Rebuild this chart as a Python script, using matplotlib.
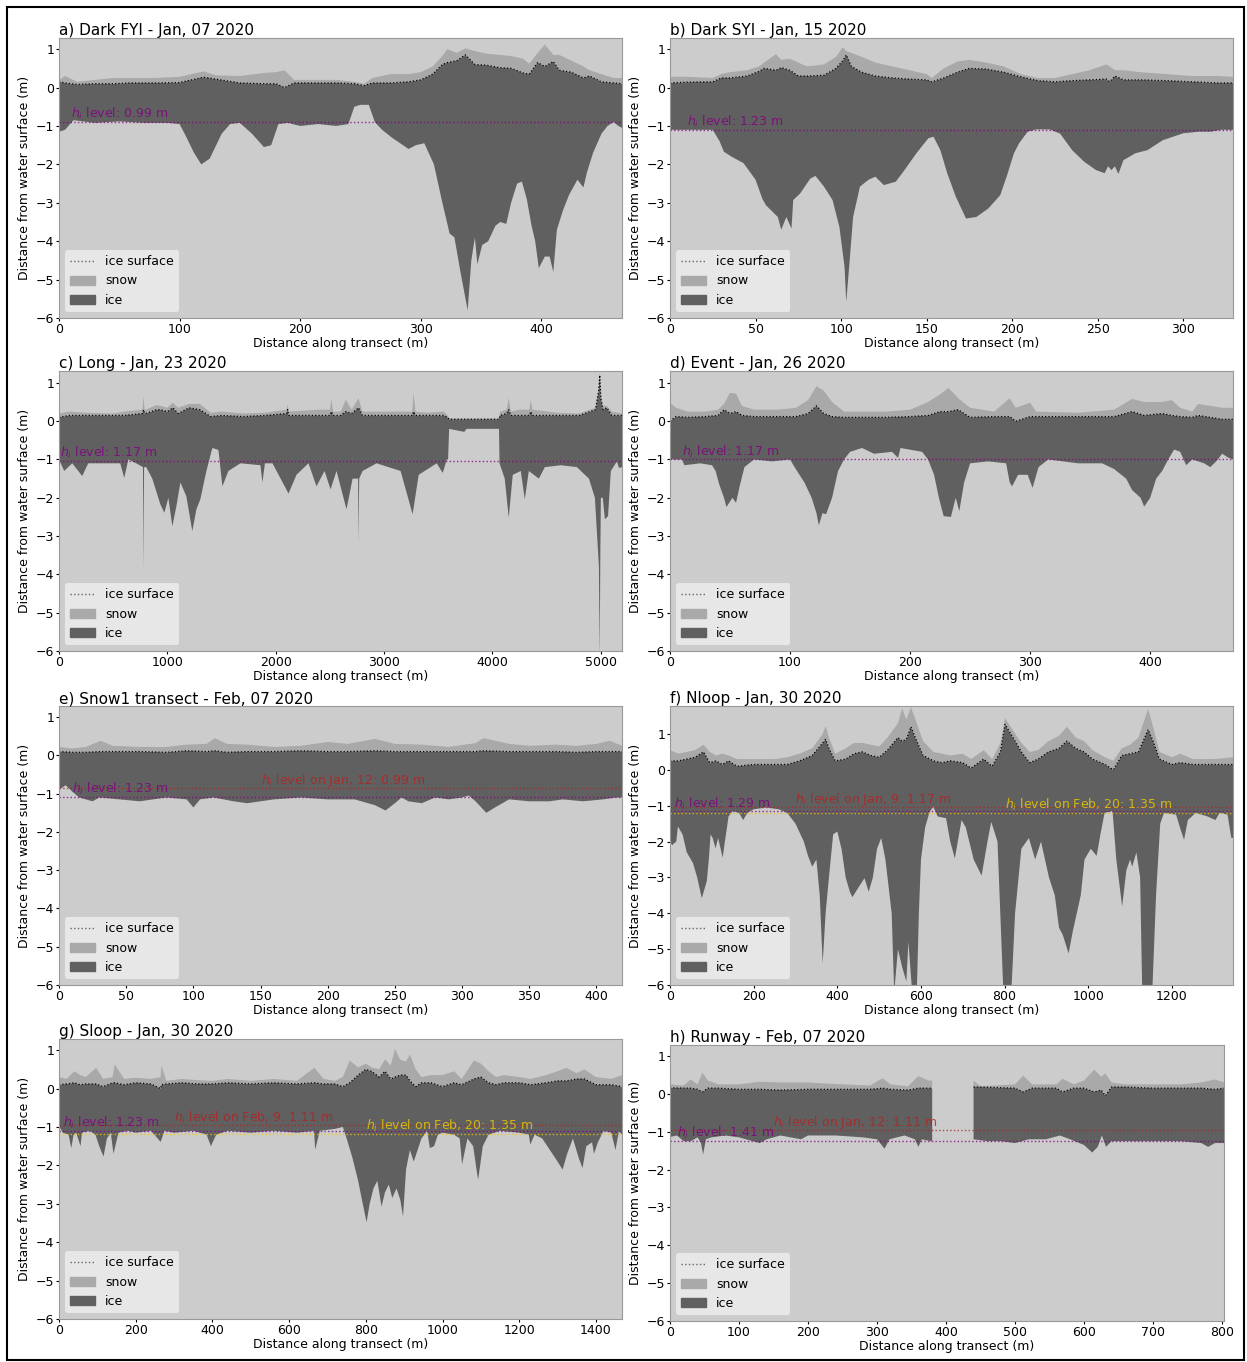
import numpy as np
import matplotlib.pyplot as plt
from matplotlib.lines import Line2D
from matplotlib.patches import Patch, Rectangle

# colours
BG = '#cccccc'
SNOW_C = '#a9a9a9'
ICE_C = '#606060'
PURPLE = 'purple'
RED = '#b22222'
GOLD = '#f2cc00'

# ---- a) Dark FYI ----
A_TX = [0, 5, 15, 30, 45, 60, 80, 100, 110, 120, 130, 150, 170, 180, 187, 195, 210, 230, 245, 253,
        260, 275, 290, 300, 310, 318, 322, 330, 337, 345, 355, 365, 375, 385, 390, 397, 403, 410, 415,
        425, 435, 440, 450, 460, 467]
A_TOP = [0.15, 0.12, 0.08, 0.10, 0.10, 0.12, 0.12, 0.13, 0.20, 0.27, 0.22, 0.12, 0.10, 0.10, 0.00,
         0.12, 0.12, 0.12, 0.10, 0.05, 0.12, 0.12, 0.15, 0.20, 0.35, 0.60, 0.65, 0.70, 0.85, 0.60,
         0.58, 0.52, 0.50, 0.38, 0.35, 0.65, 0.55, 0.68, 0.45, 0.40, 0.25, 0.30, 0.15, 0.12, 0.10]
A_SNOW = [0.20, 0.30, 0.15, 0.20, 0.25, 0.25, 0.25, 0.28, 0.35, 0.42, 0.32, 0.30, 0.38, 0.40, 0.45,
          0.20, 0.20, 0.20, 0.15, 0.10, 0.25, 0.35, 0.35, 0.40, 0.55, 0.82, 1.00, 0.90, 1.02, 0.95,
          0.88, 0.85, 0.82, 0.75, 0.62, 0.90, 1.12, 0.85, 0.85, 0.70, 0.55, 0.45, 0.35, 0.25, 0.25]
A_BX = [0, 5, 12, 30, 50, 70, 90, 100, 105, 112, 118, 125, 135, 142, 150, 160, 170, 176, 182, 190,
        200, 215, 230, 240, 245, 250, 257, 262, 268, 276, 283, 290, 296, 303, 311, 318, 324, 328, 333,
        336, 339, 342, 345, 347, 351, 356, 362, 366, 371, 375, 380, 384, 388, 392, 395, 398, 403, 407,
        410, 413, 418, 423, 430, 435, 438, 443, 450, 455, 460, 464, 467]
A_BOT = [-1.15, -1.10, -0.85, -0.92, -0.88, -0.92, -0.92, -0.95, -1.25, -1.70, -2.00, -1.85, -1.20,
         -0.95, -0.92, -1.20, -1.55, -1.50, -0.95, -0.92, -1.00, -0.95, -1.00, -0.95, -0.50, -0.45,
         -0.45, -0.90, -1.10, -1.30, -1.45, -1.60, -1.50, -1.45, -2.00, -3.00, -3.80, -3.90, -4.80,
         -5.30, -5.80, -4.50, -3.90, -4.60, -4.10, -4.00, -3.60, -3.50, -3.55, -3.00, -2.50, -2.45,
         -2.90, -3.60, -4.00, -4.70, -4.40, -4.40, -4.80, -3.70, -3.20, -2.80, -2.40, -2.60, -2.20,
         -1.70, -1.20, -1.00, -0.90, -1.00, -1.05]

# ---- b) Dark SYI ----
B_TX = [0, 10, 25, 30, 35, 45, 52, 55, 62, 65, 70, 75, 80, 90, 97, 101, 103, 106, 112, 120, 130, 140,
        150, 153, 160, 168, 175, 185, 195, 205, 215, 225, 235, 245, 255, 257, 260, 265, 275, 290, 305,
        320, 329]
B_TOP = [0.12, 0.14, 0.15, 0.25, 0.25, 0.30, 0.42, 0.50, 0.45, 0.52, 0.45, 0.30, 0.30, 0.32, 0.50,
         0.70, 0.85, 0.55, 0.40, 0.30, 0.25, 0.22, 0.20, 0.15, 0.25, 0.40, 0.50, 0.48, 0.40, 0.28,
         0.18, 0.15, 0.18, 0.20, 0.22, 0.15, 0.30, 0.20, 0.20, 0.18, 0.15, 0.12, 0.12]
B_SNOW = [0.28, 0.28, 0.25, 0.35, 0.40, 0.45, 0.55, 0.65, 0.87, 0.72, 0.75, 0.65, 0.55, 0.60, 0.80,
          1.05, 0.95, 0.90, 0.80, 0.65, 0.55, 0.45, 0.35, 0.25, 0.50, 0.68, 0.72, 0.65, 0.55, 0.35,
          0.25, 0.25, 0.35, 0.45, 0.60, 0.55, 0.45, 0.45, 0.40, 0.35, 0.30, 0.30, 0.28]
B_BX = [0, 25, 29, 31.5, 36, 43, 50, 54, 56, 63, 65, 68, 71, 72, 76, 82, 85, 90, 95, 99, 102, 103,
        105, 107, 111, 116, 120, 125, 132, 137, 144, 151, 154, 158, 162, 167, 173, 179, 186, 193, 197,
        201, 204, 209, 214, 222, 228, 235, 242, 249, 254, 256, 258, 260, 262, 265, 272, 279, 288, 300,
        309, 316, 322, 326, 329]
B_BOT = [-1.10, -1.10, -1.40, -1.67, -1.80, -1.97, -2.40, -2.90, -3.06, -3.37, -3.70, -3.37, -3.67,
         -2.93, -2.76, -2.37, -2.30, -2.58, -2.93, -3.63, -4.67, -5.58, -4.50, -3.37, -2.58, -2.40,
         -2.32, -2.54, -2.45, -2.15, -1.71, -1.32, -1.28, -1.63, -2.23, -2.84, -3.41, -3.37, -3.15,
         -2.80, -2.28, -1.71, -1.45, -1.15, -1.09, -1.09, -1.20, -1.63, -1.93, -2.15, -2.23, -2.05,
         -2.15, -2.05, -2.25, -1.89, -1.71, -1.63, -1.37, -1.19, -1.15, -1.15, -1.10, -1.10, -1.10]

# ---- c) Long ----
C_TX = [0, 100, 250, 500, 600, 770, 780, 790, 800, 900, 935, 1000, 1050, 1100, 1200, 1300, 1400,
        1500, 1700, 1900, 2100, 2110, 2120, 2400, 2500, 2513, 2530, 2600, 2646, 2700, 2764, 2800,
        2900, 3100, 3260, 3271, 3290, 3400, 3550, 3585, 3600, 4060, 4070, 4130, 4150, 4170, 4250,
        4340, 4353, 4370, 4600, 4800, 4950, 4980, 4990, 5000, 5020, 5055, 5100, 5195]
C_TOP = [0.10, 0.15, 0.15, 0.15, 0.15, 0.20, 0.30, 0.20, 0.20, 0.30, 0.30, 0.25, 0.35, 0.20, 0.35,
         0.30, 0.12, 0.15, 0.12, 0.15, 0.20, 0.30, 0.15, 0.15, 0.15, 0.25, 0.15, 0.15, 0.25, 0.20,
         0.35, 0.15, 0.15, 0.15, 0.15, 0.25, 0.15, 0.15, 0.15, 0.10, 0.05, 0.05, 0.15, 0.20, 0.30,
         0.15, 0.15, 0.15, 0.25, 0.15, 0.15, 0.15, 0.30, 0.80, 1.20, 0.60, 0.30, 0.35, 0.15, 0.15]
C_SNOW = [0.20, 0.25, 0.22, 0.20, 0.25, 0.30, 0.65, 0.30, 0.30, 0.42, 0.40, 0.35, 0.48, 0.35, 0.45,
          0.45, 0.22, 0.25, 0.20, 0.22, 0.30, 0.45, 0.25, 0.30, 0.30, 0.58, 0.25, 0.25, 0.56, 0.30,
          0.60, 0.25, 0.25, 0.25, 0.25, 0.74, 0.25, 0.22, 0.25, 0.15, 0.07, 0.07, 0.25, 0.30, 0.60,
          0.25, 0.30, 0.30, 0.55, 0.30, 0.22, 0.20, 0.35, 0.85, 1.28, 0.70, 0.40, 0.40, 0.25, 0.20]
C_BX = [0, 48, 122, 214, 270, 380, 565, 602, 640, 713, 775, 780, 785, 805, 861, 935, 972, 1009, 1046,
        1083, 1120, 1175, 1230, 1268, 1304, 1360, 1415, 1471, 1508, 1563, 1674, 1859, 1877, 1900, 1970,
        2118, 2191, 2302, 2376, 2450, 2506, 2561, 2653, 2709, 2760, 2764, 2770, 2801, 2930, 3041, 3152,
        3263, 3319, 3374, 3485, 3541, 3578, 3590, 3600, 3740, 3760, 4060, 4065, 4113, 4150, 4187, 4261,
        4298, 4335, 4428, 4483, 4631, 4779, 4890, 4945, 4982, 4989, 4995, 5000, 5018, 5037, 5066, 5092,
        5148, 5167, 5195]
C_BOT = [-1.00, -1.30, -1.10, -1.43, -1.10, -1.10, -1.10, -1.48, -1.00, -1.10, -1.20, -3.87, -1.20,
         -1.20, -1.50, -2.17, -2.39, -2.00, -2.74, -2.22, -1.60, -1.96, -2.87, -2.30, -2.04, -1.30,
         -0.70, -0.75, -1.70, -1.30, -1.10, -1.15, -1.60, -1.10, -1.10, -1.89, -1.40, -1.10, -1.70,
         -1.30, -1.78, -1.30, -2.30, -1.50, -1.50, -3.17, -1.50, -1.30, -1.10, -1.20, -1.30, -2.43,
         -1.40, -1.30, -1.10, -1.35, -1.00, -1.00, -0.20, -0.28, -0.20, -0.20, -1.10, -1.50, -2.52,
         -1.40, -1.30, -2.04, -1.30, -1.50, -1.20, -1.15, -1.20, -1.50, -2.00, -3.80, -6.20, -3.50,
         -2.00, -2.00, -2.56, -2.48, -1.30, -1.05, -1.22, -1.20]

# ---- d) Event ----
D_TX = [0, 5, 15, 30, 40, 45, 50, 55, 60, 70, 90, 105, 115, 122, 128, 135, 145, 180, 200, 215, 225,
        232, 240, 250, 270, 283, 288, 300, 305, 340, 370, 385, 395, 410, 418, 425, 435, 440, 460, 469]
D_TOP = [0.00, 0.12, 0.10, 0.12, 0.15, 0.30, 0.20, 0.25, 0.15, 0.12, 0.12, 0.12, 0.20, 0.40, 0.20,
         0.12, 0.10, 0.10, 0.12, 0.15, 0.25, 0.25, 0.30, 0.10, 0.12, 0.12, 0.00, 0.12, 0.12, 0.12,
         0.12, 0.25, 0.15, 0.20, 0.15, 0.12, 0.10, 0.15, 0.05, 0.05]
D_SNOW = [0.48, 0.35, 0.25, 0.25, 0.30, 0.45, 0.74, 0.72, 0.40, 0.30, 0.30, 0.35, 0.55, 0.91, 0.80,
          0.50, 0.25, 0.25, 0.30, 0.50, 0.70, 0.87, 0.60, 0.35, 0.25, 0.60, 0.35, 0.48, 0.25, 0.22,
          0.30, 0.58, 0.50, 0.50, 0.55, 0.35, 0.25, 0.45, 0.35, 0.35]
D_BX = [0, 10, 12, 25, 35, 38, 41, 45, 47, 52, 55, 58, 62, 70, 85, 100, 105, 112, 118, 122, 124, 127,
        130, 135, 140, 145, 150, 160, 170, 185, 190, 192, 210, 215, 220, 224, 228, 234, 238, 241, 245,
        250, 265, 280, 283, 285, 290, 298, 302, 307, 315, 340, 360, 370, 380, 385, 392, 395, 400, 405,
        410, 415, 420, 425, 430, 435, 445, 450, 455, 460, 465, 469]
D_BOT = [-1.00, -1.00, -1.15, -1.10, -1.15, -1.30, -1.65, -2.00, -2.24, -2.00, -2.13, -1.70, -1.20,
         -1.00, -1.05, -1.00, -1.26, -1.60, -2.00, -2.40, -2.72, -2.40, -2.43, -2.00, -1.30, -1.00,
         -0.80, -0.70, -0.85, -0.80, -0.96, -0.70, -0.80, -1.00, -1.40, -2.00, -2.48, -2.50, -2.00,
         -2.35, -1.60, -1.10, -1.05, -1.10, -1.60, -1.70, -1.40, -1.40, -1.74, -1.20, -1.00, -1.10,
         -1.10, -1.25, -1.50, -1.80, -2.00, -2.23, -2.00, -1.50, -1.30, -1.00, -0.74, -0.80, -1.15,
         -1.00, -1.10, -1.20, -1.05, -0.85, -0.95, -1.00]

# ---- e) Snow1 transect ----
E_TX = [0, 10, 20, 31, 40, 60, 80, 95, 110, 116, 125, 140, 160, 180, 200, 215, 235, 250, 270, 290,
        310, 316, 335, 350, 370, 385, 400, 410, 419]
E_TOP = [0.10, 0.08, 0.08, 0.10, 0.10, 0.10, 0.08, 0.12, 0.10, 0.12, 0.08, 0.10, 0.10, 0.12, 0.10,
         0.10, 0.12, 0.10, 0.10, 0.10, 0.10, 0.12, 0.10, 0.10, 0.10, 0.08, 0.10, 0.10, 0.10]
E_SNOW = [0.22, 0.18, 0.22, 0.38, 0.25, 0.22, 0.22, 0.28, 0.30, 0.45, 0.30, 0.28, 0.22, 0.25, 0.35,
          0.30, 0.43, 0.30, 0.28, 0.22, 0.32, 0.45, 0.30, 0.25, 0.28, 0.25, 0.30, 0.38, 0.25]
E_BX = [0, 5, 10, 15, 25, 30, 45, 60, 80, 95, 100, 105, 115, 130, 140, 160, 180, 200, 220, 235, 243,
        250, 255, 260, 270, 280, 290, 300, 305, 310, 318, 325, 335, 350, 365, 375, 390, 405, 415, 419]
E_BOT = [-0.90, -0.78, -0.95, -1.10, -1.20, -1.10, -1.15, -1.20, -1.10, -1.15, -1.36, -1.15, -1.10,
         -1.20, -1.25, -1.15, -1.10, -1.15, -1.15, -1.30, -1.44, -1.25, -1.10, -1.20, -1.25, -1.10,
         -1.15, -1.10, -1.05, -1.20, -1.50, -1.35, -1.15, -1.20, -1.20, -1.15, -1.20, -1.15, -1.10,
         -1.10]

# ---- f) Nloop ----
F_TX = [0, 20, 40, 60, 80, 95, 110, 125, 140, 160, 200, 250, 280, 310, 340, 365, 372, 380, 395, 420,
        440, 460, 480, 500, 520, 545, 555, 565, 576, 590, 605, 630, 650, 670, 700, 720, 750, 770, 790,
        801, 820, 840, 860, 880, 905, 930, 949, 970, 990, 1010, 1040, 1060, 1080, 1100, 1120, 1143,
        1155, 1170, 1200, 1220, 1250, 1300, 1346]
F_TOP = [0.25, 0.25, 0.30, 0.35, 0.50, 0.20, 0.25, 0.15, 0.25, 0.10, 0.15, 0.15, 0.15, 0.25, 0.40,
         0.75, 0.85, 0.60, 0.25, 0.30, 0.45, 0.50, 0.40, 0.35, 0.55, 0.90, 0.80, 0.85, 1.20, 0.80,
         0.40, 0.25, 0.20, 0.25, 0.20, 0.05, 0.30, 0.10, 0.50, 1.27, 0.90, 0.50, 0.20, 0.30, 0.50,
         0.60, 0.80, 0.60, 0.50, 0.30, 0.15, 0.00, 0.40, 0.45, 0.50, 1.12, 0.80, 0.30, 0.15, 0.20,
         0.15, 0.15, 0.15]
F_SNOW = [0.55, 0.45, 0.50, 0.55, 0.70, 0.50, 0.40, 0.45, 0.40, 0.30, 0.30, 0.30, 0.35, 0.45, 0.60,
          1.00, 1.22, 0.90, 0.45, 0.60, 0.75, 0.75, 0.70, 0.65, 0.90, 1.30, 1.72, 1.40, 1.75, 1.30,
          0.80, 0.50, 0.45, 0.40, 0.45, 0.30, 0.55, 0.30, 0.75, 1.44, 1.10, 0.75, 0.50, 0.55, 0.80,
          0.95, 1.20, 0.90, 0.80, 0.55, 0.35, 0.25, 0.60, 0.70, 0.90, 1.70, 1.20, 0.50, 0.35, 0.45,
          0.30, 0.30, 0.35]
F_BX = [0, 5, 15, 19, 30, 40, 55, 65, 76, 88, 93, 97, 102, 109, 115, 126, 130, 140, 150, 165, 175,
        185, 200, 230, 260, 280, 300, 320, 330, 340, 350, 358, 365, 372, 380, 390, 400, 410, 420, 430,
        436, 455, 465, 475, 485, 495, 505, 515, 530, 536, 545, 555, 565, 570, 579, 590, 595, 600, 610,
        620, 629, 640, 660, 670, 681, 697, 707, 726, 745, 759, 768, 783, 797, 816, 825, 840, 858, 873,
        887, 906, 920, 930, 939, 953, 963, 982, 991, 1006, 1020, 1029, 1039, 1058, 1067, 1081, 1091,
        1100, 1105, 1115, 1124, 1129, 1153, 1162, 1172, 1181, 1210, 1219, 1229, 1238, 1257, 1285,
        1304, 1314, 1333, 1342, 1346]
F_BOT = [-2.00, -2.10, -2.00, -1.58, -1.80, -2.30, -2.60, -3.00, -3.58, -3.10, -2.47, -1.80, -1.90,
         -2.19, -1.90, -2.45, -2.10, -1.30, -1.15, -1.20, -1.40, -1.20, -1.10, -1.05, -1.10, -1.20,
         -1.50, -2.00, -2.40, -2.70, -2.50, -3.50, -5.40, -4.00, -3.00, -1.80, -1.72, -2.20, -3.00,
         -3.40, -3.55, -3.20, -3.02, -3.40, -3.00, -2.20, -1.90, -2.50, -4.00, -6.20, -5.00, -5.50,
         -5.90, -4.80, -6.20, -6.20, -4.00, -2.50, -1.60, -1.20, -1.02, -1.30, -1.35, -2.00, -2.47,
         -1.40, -1.60, -2.50, -2.95, -2.00, -1.45, -2.00, -6.20, -6.20, -4.00, -2.20, -1.90, -2.50,
         -2.00, -3.00, -3.50, -4.40, -4.60, -5.12, -4.50, -3.50, -2.50, -2.20, -2.40, -1.80, -1.20,
         -1.15, -2.50, -3.81, -2.80, -2.50, -2.70, -2.30, -3.00, -6.20, -6.20, -3.50, -1.50, -1.20,
         -1.25, -1.60, -1.95, -1.40, -1.20, -1.30, -1.40, -1.20, -1.25, -1.90, -1.90]

# ---- g) Sloop ----
G_TX = [0, 20, 40, 55, 70, 97, 115, 140, 145, 170, 200, 240, 265, 267, 280, 320, 360, 400, 440, 500,
        560, 620, 666, 690, 720, 740, 758, 780, 800, 815, 835, 850, 865, 876, 890, 905, 915, 930, 945,
        970, 1000, 1030, 1050, 1082, 1100, 1120, 1140, 1160, 1200, 1230, 1270, 1300, 1323, 1350,
        1370, 1400, 1440, 1468]
G_TOP = [0.10, 0.12, 0.15, 0.10, 0.12, 0.12, 0.05, 0.15, 0.15, 0.10, 0.15, 0.12, 0.00, 0.10, 0.12,
         0.15, 0.12, 0.12, 0.15, 0.12, 0.15, 0.12, 0.15, 0.12, 0.12, 0.05, 0.15, 0.35, 0.50, 0.45,
         0.30, 0.45, 0.25, 0.30, 0.35, 0.35, 0.20, 0.05, 0.15, 0.15, 0.05, 0.15, 0.10, 0.25, 0.30,
         0.15, 0.10, 0.15, 0.15, 0.10, 0.15, 0.20, 0.20, 0.25, 0.25, 0.10, 0.10, 0.05]
G_SNOW = [0.30, 0.25, 0.45, 0.35, 0.30, 0.54, 0.25, 0.30, 0.63, 0.25, 0.28, 0.25, 0.30, 0.60, 0.20,
          0.25, 0.22, 0.20, 0.25, 0.20, 0.25, 0.20, 0.54, 0.25, 0.20, 0.30, 0.73, 0.55, 0.65, 0.55,
          0.50, 0.76, 0.60, 1.03, 0.75, 0.70, 0.89, 0.50, 0.30, 0.35, 0.35, 0.45, 0.25, 0.73, 0.65,
          0.45, 0.30, 0.35, 0.30, 0.25, 0.35, 0.45, 0.54, 0.40, 0.50, 0.30, 0.25, 0.35]
G_BX = [0, 10, 25, 32, 38, 45, 56, 60, 80, 95, 105, 116, 125, 135, 142, 155, 180, 200, 240, 265, 275,
        300, 350, 385, 396, 410, 440, 500, 560, 620, 665, 668, 680, 720, 740, 750, 765, 780, 790, 802,
        810, 820, 830, 841, 850, 860, 869, 880, 890, 897, 905, 915, 925, 935, 945, 960, 967, 978, 988,
        1000, 1030, 1045, 1051, 1065, 1080, 1090, 1093, 1105, 1120, 1150, 1200, 1225, 1229, 1240, 1260,
        1280, 1300, 1313, 1325, 1340, 1355, 1365, 1375, 1390, 1395, 1405, 1420, 1440, 1451, 1460, 1468]
G_BOT = [-0.98, -1.15, -1.20, -1.55, -1.20, -1.15, -1.50, -1.15, -1.10, -1.20, -1.50, -1.77, -1.30,
         -1.15, -1.70, -1.15, -1.10, -1.15, -1.10, -1.39, -1.10, -1.15, -1.10, -1.20, -1.50, -1.20,
         -1.10, -1.15, -1.10, -1.15, -1.10, -1.59, -1.10, -1.05, -1.00, -1.30, -1.80, -2.40, -2.90,
         -3.48, -3.00, -2.60, -2.40, -3.07, -2.70, -2.50, -2.85, -2.60, -2.90, -3.33, -2.10, -1.60,
         -1.90, -1.60, -1.30, -1.10, -1.55, -1.50, -1.20, -1.15, -1.20, -1.30, -1.97, -1.30, -1.50,
         -2.20, -2.37, -1.50, -1.20, -1.10, -1.15, -1.20, -1.46, -1.20, -1.30, -1.60, -1.90, -2.11,
         -1.70, -1.30, -1.80, -2.07, -1.50, -1.40, -1.70, -1.40, -1.10, -1.15, -1.60, -1.10, -1.20]

# ---- h) Runway (two pieces, gap between 380 and 440 m) ----
H1_TX = [0, 20, 30, 40, 47, 55, 70, 100, 130, 160, 200, 250, 290, 308, 320, 345, 360, 375, 380]
H1_TOP = [0.16, 0.15, 0.15, 0.12, 0.05, 0.15, 0.15, 0.12, 0.12, 0.10, 0.12, 0.12, 0.12, 0.15, 0.12,
          0.10, 0.15, 0.15, 0.15]
H1_SNOW = [0.25, 0.22, 0.38, 0.25, 0.56, 0.35, 0.25, 0.25, 0.32, 0.30, 0.30, 0.25, 0.22, 0.41, 0.25,
           0.20, 0.47, 0.35, 0.35]
H1_BX = [0, 10, 20, 30, 40, 45, 48, 52, 60, 80, 100, 120, 130, 140, 160, 190, 200, 240, 280, 300,
         311, 318, 340, 355, 360, 365, 378, 380]
H1_BOT = [-1.14, -1.10, -1.25, -1.25, -1.15, -1.30, -1.60, -1.20, -1.15, -1.10, -1.15, -1.25, -1.30,
          -1.20, -1.10, -1.20, -1.10, -1.10, -1.15, -1.20, -1.45, -1.20, -1.10, -1.20, -1.40, -1.20,
          -1.25, -1.25]
H2_TX = [440, 450, 500, 512, 525, 560, 569, 585, 600, 615, 625, 631, 640, 660, 700, 740, 770, 790, 803]
H2_TOP = [0.18, 0.18, 0.15, 0.05, 0.15, 0.15, 0.05, 0.15, 0.15, 0.05, 0.10, -0.05, 0.18, 0.18, 0.15,
          0.15, 0.15, 0.12, 0.15]
H2_SNOW = [0.35, 0.20, 0.25, 0.48, 0.25, 0.25, 0.40, 0.25, 0.35, 0.64, 0.45, 0.54, 0.30, 0.25, 0.25,
           0.25, 0.30, 0.38, 0.30]
H2_BX = [440, 460, 480, 500, 520, 545, 565, 580, 600, 612, 620, 626, 632, 640, 660, 700, 740, 770,
         780, 790, 803]
H2_BOT = [-1.20, -1.25, -1.25, -1.30, -1.20, -1.20, -1.10, -1.20, -1.35, -1.55, -1.40, -1.10, -1.40,
          -1.25, -1.25, -1.25, -1.25, -1.30, -1.40, -1.30, -1.30]

TITLES = ['a) Dark FYI - Jan, 07 2020', 'b) Dark SYI - Jan, 15 2020', 'c) Long - Jan, 23 2020',
          'd) Event - Jan, 26 2020', 'e) Snow1 transect - Feb, 07 2020', 'f) Nloop - Jan, 30 2020',
          'g) Sloop - Jan, 30 2020', 'h) Runway - Feb, 07 2020']
XMAX = [467, 329, 5195, 469, 419, 1346, 1468, 803]
YTOP = [1.29, 1.29, 1.31, 1.31, 1.29, 1.78, 1.29, 1.29]
XSTEP = [100, 50, 1000, 100, 50, 200, 200, 100]
# h_i label, line level (m below water), text x position, colour
LEVELS = [
    [(r'$h_i$ level: 0.99 m', -0.89, 10, PURPLE)],
    [(r'$h_i$ level: 1.23 m', -1.10, 10, PURPLE)],
    [(r'$h_i$ level: 1.17 m', -1.03, 10, PURPLE)],
    [(r'$h_i$ level: 1.17 m', -1.00, 10, PURPLE)],
    [(r'$h_i$ level: 1.23 m', -1.08, 10, PURPLE),
     (r'$h_i$ level on Jan, 12: 0.99 m', -0.84, 150, RED)],
    [(r'$h_i$ level: 1.29 m', -1.16, 10, PURPLE),
     (r'$h_i$ level on Jan, 9: 1.17 m', -1.03, 300, RED),
     (r'$h_i$ level on Feb, 20: 1.35 m', -1.20, 800, GOLD)],
    [(r'$h_i$ level: 1.23 m', -1.10, 10, PURPLE),
     (r'$h_i$ level on Feb, 9: 1.11 m', -0.96, 300, RED),
     (r'$h_i$ level on Feb, 20: 1.35 m', -1.18, 800, GOLD)],
    [(r'$h_i$ level: 1.41 m', -1.25, 10, PURPLE),
     (r'$h_i$ level on Jan, 12: 1.11 m', -0.95, 150, RED)],
]
PROFILES = [
    [(A_TX, A_SNOW, A_TOP, A_BX, A_BOT)],
    [(B_TX, B_SNOW, B_TOP, B_BX, B_BOT)],
    [(C_TX, C_SNOW, C_TOP, C_BX, C_BOT)],
    [(D_TX, D_SNOW, D_TOP, D_BX, D_BOT)],
    [(E_TX, E_SNOW, E_TOP, E_BX, E_BOT)],
    [(F_TX, F_SNOW, F_TOP, F_BX, F_BOT)],
    [(G_TX, G_SNOW, G_TOP, G_BX, G_BOT)],
    [(H1_TX, H1_SNOW, H1_TOP, H1_BX, H1_BOT), (H2_TX, H2_SNOW, H2_TOP, H2_BX, H2_BOT)],
]

# axes boxes in pixels: left, top, right, bottom
BOXES = [(59, 38, 622, 318), (670, 38, 1233, 318),
         (59, 371, 622, 651), (670, 371, 1233, 651),
         (59, 706, 622, 985), (670, 706, 1233, 985),
         (59, 1039, 622, 1319), (670, 1045, 1224, 1321)]

plt.rcParams['font.family'] = 'DejaVu Sans'
plt.rcParams['font.size'] = 9
W, H = 1247, 1362
fig = plt.figure(figsize=(W / 100, H / 100), dpi=100)

for i in range(8):
    l, t, r, b = BOXES[i]
    ax = fig.add_axes([l / W, 1 - b / H, (r - l) / W, (b - t) / H])
    ax.set_facecolor(BG)

    for tx, snow, top, bx, bot in PROFILES[i]:
        tx, snow, top = np.array(tx), np.array(snow), np.array(top)
        bx, bot = np.array(bx), np.array(bot)
        ax.fill(np.r_[tx, bx[::-1]], np.r_[top, bot[::-1]], color=ICE_C, lw=0)
        ax.fill(np.r_[tx, tx[::-1]], np.r_[snow, top[::-1]], color=SNOW_C, lw=0)
        ax.plot(tx, top, ':', color='k', lw=0.9)

    for label, lev, xt, col in LEVELS[i]:
        ax.axhline(lev, ls=':', color=col, lw=1, alpha=0.8)
        ax.text(xt, lev + 0.1, label, color=col, fontsize=9, alpha=0.8)

    ax.set_xlim(0, XMAX[i])
    ax.set_ylim(-6, YTOP[i])
    ax.set_xticks(np.arange(0, XMAX[i], XSTEP[i]))
    ax.set_yticks(np.arange(-6, 2))
    ax.tick_params(length=2, pad=1.5, width=0.8, labelsize=9)
    for s in ax.spines.values():
        s.set_color('0.6')
        s.set_linewidth(0.8)
    ax.set_title(TITLES[i], loc='left', fontsize=11, pad=1.5)
    ax.set_xlabel('Distance along transect (m)', labelpad=1)
    ax.set_ylabel('Distance from water surface (m)', labelpad=3)

    handles = [Line2D([], [], ls=':', color='0.4', lw=1),
               Patch(color=SNOW_C), Patch(color=ICE_C)]
    ax.legend(handles, ['ice surface', 'snow', 'ice'], loc='lower left',
              facecolor='white', framealpha=0.55, edgecolor='none', fontsize=9)

# black frame around the whole figure
fig.add_artist(Rectangle((7 / W, 2 / H), (1244 - 7) / W, (1360 - 7) / H,
                         transform=fig.transFigure, fill=False, ec='k', lw=1.5))

fig.savefig('out.png', dpi=100)
